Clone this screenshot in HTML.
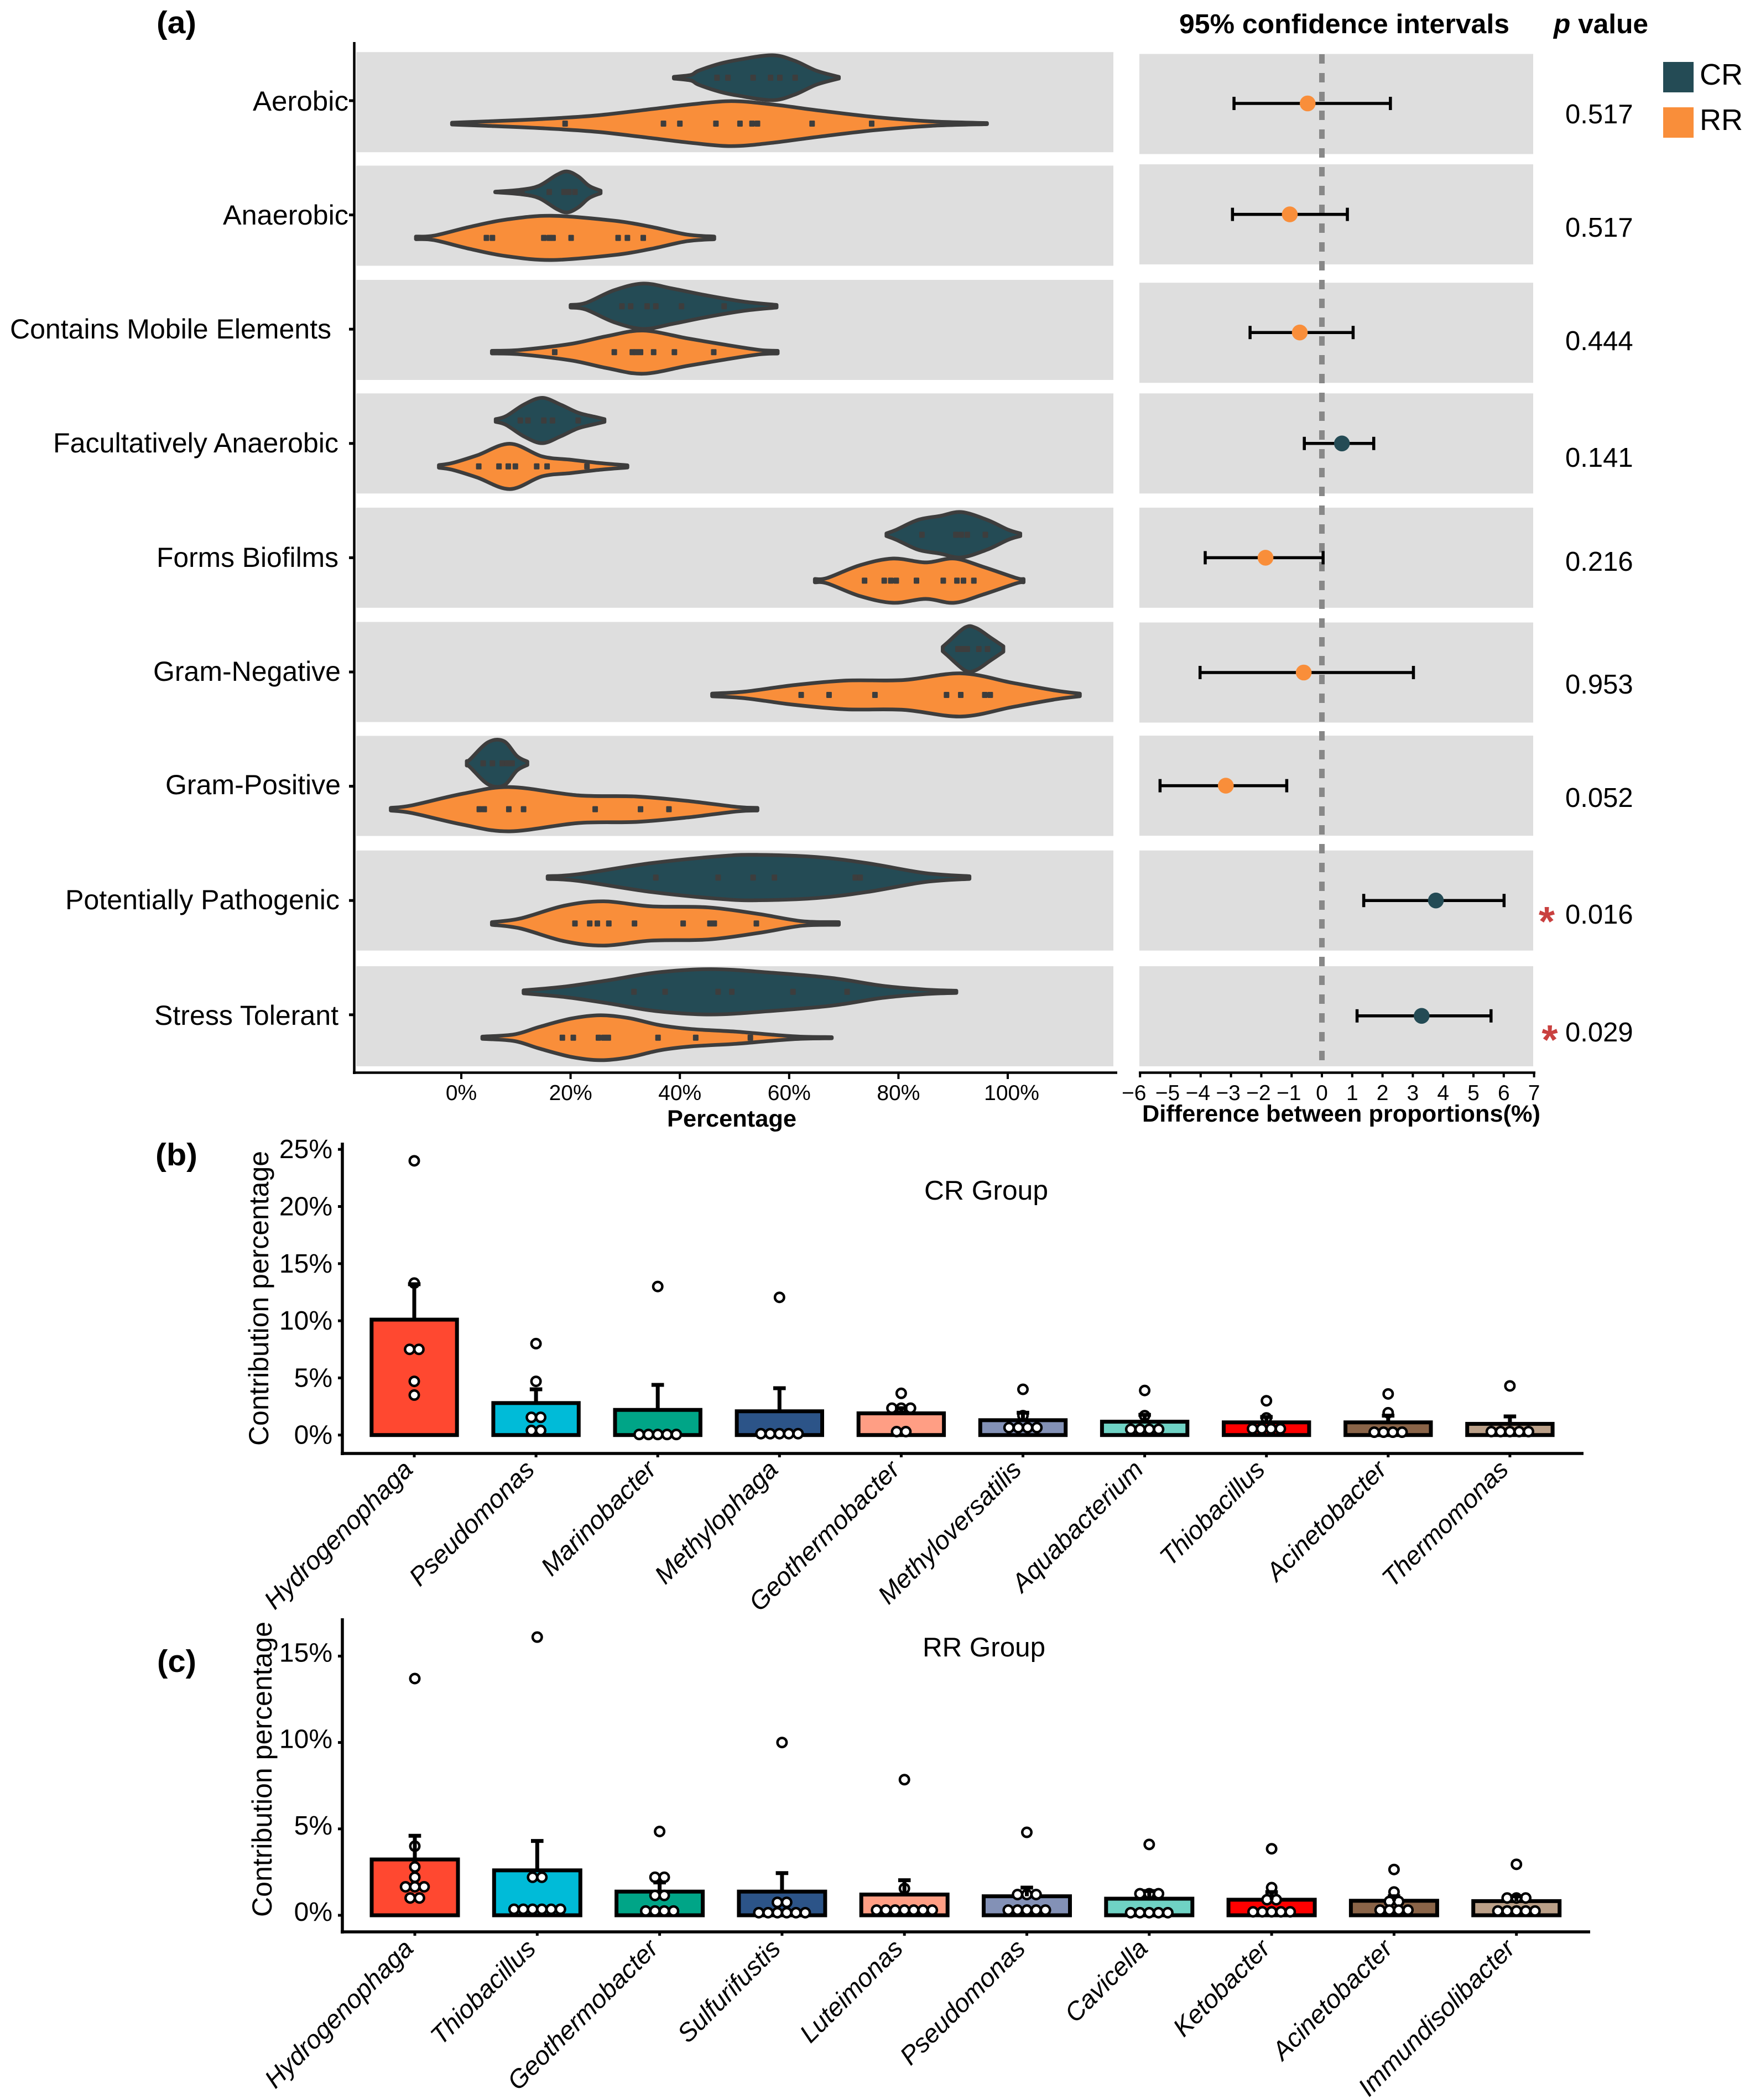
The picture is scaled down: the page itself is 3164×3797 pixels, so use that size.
<!DOCTYPE html>
<html lang="en">
<head>
<meta charset="utf-8">
<title>Violin, confidence interval and contribution charts</title>
<style>
html,body{margin:0;padding:0;background:#fff}
svg{display:block;font-family:"Liberation Sans",Arial,sans-serif}
</style>
</head>
<body>
<svg id="fig" xmlns="http://www.w3.org/2000/svg" width="3164" height="3797" viewBox="0 0 3164 3797">
  <rect x="0" y="0" width="3164" height="3797" fill="#ffffff"/>
  <g id="violinLayer"></g>
  <g id="ciLayer"></g>
  <g id="barLayerB"></g>
  <g id="barLayerC"></g>

  <text x="283" y="60" font-size="57" font-weight="700" textLength="72" lengthAdjust="spacingAndGlyphs">(a)</text>
  <text x="281" y="2107" font-size="57" font-weight="700" textLength="76" lengthAdjust="spacingAndGlyphs">(b)</text>
  <text x="284" y="3023" font-size="57" font-weight="700" textLength="71" lengthAdjust="spacingAndGlyphs">(c)</text>

  <g font-size="50" fill="#000">
    <text x="457" y="200" textLength="173" lengthAdjust="spacingAndGlyphs">Aerobic</text>
    <text x="403" y="406" textLength="227" lengthAdjust="spacingAndGlyphs">Anaerobic</text>
    <text x="18" y="612" textLength="581" lengthAdjust="spacingAndGlyphs">Contains Mobile Elements</text>
    <text x="96" y="818" textLength="516" lengthAdjust="spacingAndGlyphs">Facultatively Anaerobic</text>
    <text x="283" y="1025" textLength="329" lengthAdjust="spacingAndGlyphs">Forms Biofilms</text>
    <text x="277" y="1231" textLength="339" lengthAdjust="spacingAndGlyphs">Gram-Negative</text>
    <text x="299" y="1436" textLength="317" lengthAdjust="spacingAndGlyphs">Gram-Positive</text>
    <text x="118" y="1644" textLength="496" lengthAdjust="spacingAndGlyphs">Potentially Pathogenic</text>
    <text x="279" y="1853" textLength="333" lengthAdjust="spacingAndGlyphs">Stress Tolerant</text>
  </g>

  <text x="1206" y="2037" font-size="43" font-weight="700" textLength="234" lengthAdjust="spacingAndGlyphs">Percentage</text>
  <text x="2065" y="2028" font-size="43" font-weight="700" textLength="720" lengthAdjust="spacingAndGlyphs">Difference between proportions(%)</text>
  <text x="2132" y="60" font-size="49" font-weight="700" textLength="597" lengthAdjust="spacingAndGlyphs">95% confidence intervals</text>
  <text x="2809" y="60" font-size="49" font-weight="700" textLength="171" lengthAdjust="spacingAndGlyphs"><tspan font-style="italic">p</tspan> value</text>

  <g font-size="49" fill="#000">
    <text x="2830" y="223">0.517</text>
    <text x="2830" y="428">0.517</text>
    <text x="2830" y="633">0.444</text>
    <text x="2830" y="844">0.141</text>
    <text x="2830" y="1032">0.216</text>
    <text x="2830" y="1254">0.953</text>
    <text x="2830" y="1459">0.052</text>
    <text x="2830" y="1670">0.016</text>
    <text x="2830" y="1883">0.029</text>
  </g>
  <text x="2796.5" y="1692" font-size="75" font-weight="700" fill="#C9403F" text-anchor="middle">*</text>
  <text x="2802" y="1906" font-size="75" font-weight="700" fill="#C9403F" text-anchor="middle">*</text>

  <g>
    <rect x="3007" y="112" width="55" height="55" fill="#244B55"/>
    <text x="3073" y="153" font-size="54">CR</text>
    <rect x="3007" y="194" width="55" height="55" fill="#F98E3A"/>
    <text x="3073" y="235" font-size="54">RR</text>
  </g>

  <text x="1671" y="2169" font-size="49" textLength="224" lengthAdjust="spacingAndGlyphs">CR Group</text>
  <text x="1668" y="2995" font-size="49" textLength="222" lengthAdjust="spacingAndGlyphs">RR Group</text>
  <text transform="rotate(-90 485 2614)" x="485" y="2614" font-size="50" textLength="533" lengthAdjust="spacingAndGlyphs">Contribution percentage</text>
  <text transform="rotate(-90 491 3466)" x="491" y="3466" font-size="50" textLength="534" lengthAdjust="spacingAndGlyphs">Contribution percentage</text>
</svg>

<script>
// ---------- Panel (a): violin data ----------
const violinGridCR = [
  [38.9,42,43.4,47.4,50.8,56.9,61,65,69.1],
  [6.2,10.8,14.2,17.5,19.4,21.4,23.4,25.5],
  [20,22.8,28,33.3,38.6,45.2,51.9,57.7],
  [6.3,8.2,11.5,14.8,18.1,21.4,24.7,26.2],
  [77.8,79.6,83.6,87.6,91.5,96.2,100.1,102.3],
  [88.1,88.9,92.2,94.2,96.8,99.2],
  [1,1.6,4.9,7.8,10.2,12.1],
  [15.8,21.4,34.7,47.9,54.5,65.1,74.3,84.9,93],
  [11.4,19,27,35.8,45.7,56.2,67.8,77,85,90.6]
];
const violinDensityCR = [
  [1.5,5,12.6,25.6,32.6,40.7,30.6,12.6,1.5],
  [0.5,4,11,31,37,28,11,2.4],
  [2.4,6,29,41,32,19,8,2.4],
  [2.4,8,29,41,29,14,6,2.4],
  [2.4,9,27,34,41,27,9,2.4],
  [4,11,39,38,21,5],
  [4,7,38,40,13,3],
  [2.4,6,26,39,41,37,26,8,2.4],
  [2.7,9.5,21,35,41,35,25,11,4,2]
];
const rugCR = [
  [46.8,48.8,53.4,56.6,58.3,61.1],
  [11.1,16.1,18.8,19.7,20.8],
  [29.4,31,34,35.6,40.3,48.1],
  [10.8,12.2,15.1,16.7,21.4],
  [84.3,90.5,91.5,92.6,95.9],
  [90.9,91.8,92.6,94.7,96.3],
  [4,5.7,7.5,8.5,9.3],
  [35.6,47,53.4,57.3,72.1,73],
  [31.6,37.3,47,49.5,60.7,70.6]
];
const violinGridRR = [
  [-1.7,4.7,14.9,25,35.2,42,49.4,56.9,65.7,75.9,86,96.2],
  [-8.3,-5,1.6,8.2,16.5,28,34.7,41.3,46.3],
  [5.6,10.8,20.1,26.7,33.3,41.3,47.9,54.5,57.9],
  [-4.1,-1.7,2.9,8.9,14.8,20.1,25.4,30.4],
  [64.7,67,73,79,85,90.2,95.5,101.5,102.9],
  [45.9,51.9,61.1,70.4,81,91.5,100.8,108.7,113.2],
  [-12.9,-9,0.3,8.9,21.4,32,41.3,50.5,54.2],
  [5.6,10.8,18.8,26.1,34.7,45.2,54.5,62.4,69.1],
  [3.85,9.7,14.3,20.1,25.4,30.6,36.4,42.2,50.3,56.2,62,67.8]
];
const violinDensityRR = [
  [1.7,4,8.4,15,26.7,34.7,40.7,34.7,23.4,11.7,4,1],
  [2.4,4,20,33,40,31,20,6,2.4],
  [2.4,4,15,29,39,25,14,4,2.4],
  [2.4,6,20,41,18,12,6,2],
  [3,5,28,40,33,40,25,5,3],
  [2.4,6,18,26,27,39,22,8,2.4],
  [2.4,7,28,40,25,23,15,4,2.4],
  [2.4,9,32,40,31,29,17,4,2.4],
  [2,6,19.6,34.6,40.6,35.6,22.6,15.6,11,6,2,1]
];
const rugRR = [
  [19,37,40,46.6,51,53.2,54.2,64.2,75.1],
  [4.6,5.7,15.1,16.1,16.8,20.1,28.7,30.4,33.3],
  [17.1,28,31.3,32,32.8,35.2,39,46.2],
  [3.2,6.9,8.6,9.9,13.8,15.7,23],
  [73.8,77.4,78.6,79.6,83.3,88.2,90.7,91.9,93.8],
  [62.2,67.3,75.7,88.8,91.4,95.8,96.8],
  [3.3,4.2,8.7,11.4,24.5,32.8,38],
  [20.8,23.5,24.9,27,31.7,40.6,45.5,46.3,54],
  [18.5,20.5,25.1,26.1,26.9,36,42.9,52.9]
];
const violinTicks = [0,20,40,60,80,100];
const violinTickLabels = ['0%','20%','40%','60%','80%','100%'];

// ---------- Panel (a): confidence interval data ----------
const ciLow = [-2.9,-2.95,-2.37,-0.58,-3.85,-4.02,-5.34,1.38,1.16];
const ciHigh = [2.26,0.84,1.03,1.71,0.04,3.02,-1.16,6.01,5.58];
const ciDiff = [-0.47,-1.06,-0.73,0.66,-1.86,-0.6,-3.17,3.76,3.29];
const ciTicks = [-6,-5,-4,-3,-2,-1,0,1,2,3,4,5,6,7];

// ---------- Panel (b) ----------
const crGenera = ['Hydrogenophaga','Pseudomonas','Marinobacter','Methylophaga','Geothermobacter','Methyloversatilis','Aquabacterium','Thiobacillus','Acinetobacter','Thermomonas'];
const crMeans = [10.1,2.8,2.2,2.08,1.9,1.3,1.17,1.11,1.11,0.98];
const crErrorTops = [13.2,4.0,4.39,4.1,2.35,1.95,1.77,1.58,1.7,1.63];
const crSamples = [
  [24,13.3,7.5,7.5,4.7,3.5],
  [8,4.7,1.55,1.55,0.4,0.4],
  [13,0.05,0.05,0.05,0.05,0.05],
  [12.05,0.12,0.12,0.12,0.12,0.12],
  [3.65,2.35,2.35,2.35,0.3,0.3],
  [4,1.7,0.65,0.65,0.65,0.65],
  [3.9,1.7,0.5,0.5,0.5,0.5],
  [3,1.5,0.55,0.55,0.55,0.55],
  [3.6,1.95,0.25,0.25,0.25,0.25],
  [4.3,0.3,0.3,0.3,0.3,0.3]
];
const crTicks = [0,5,10,15,20,25];

// ---------- Panel (c) ----------
const rrGenera = ['Hydrogenophaga','Thiobacillus','Geothermobacter','Sulfurifustis','Luteimonas','Pseudomonas','Cavicella','Ketobacter','Acinetobacter','Immundisolibacter'];
const rrMeans = [3.23,2.6,1.37,1.37,1.2,1.1,0.96,0.9,0.84,0.82];
const rrErrorTops = [4.6,4.3,1.9,2.44,2.03,1.6,1.4,1.34,1.1,1.1];
const rrSamples = [
  [13.7,4,2.8,2.2,1.65,1.65,1.65,1,1],
  [16.1,2.2,2.2,0.35,0.35,0.35,0.35,0.35,0.35],
  [4.85,2.2,2.2,1.15,1.15,0.25,0.25,0.25,0.25],
  [10,0.75,0.75,0.15,0.15,0.15,0.15,0.15,0.15],
  [7.85,1.55,0.3,0.3,0.3,0.3,0.3,0.3,0.3],
  [4.8,1.2,1.2,1.2,0.3,0.3,0.3,0.3,0.3],
  [4.1,1.25,1.25,1.25,0.15,0.15,0.15,0.15,0.15],
  [3.85,1.6,0.9,0.9,0.2,0.2,0.2,0.2,0.2],
  [2.65,1.35,1,0.8,0.8,0.3,0.3,0.3,0.3],
  [2.95,1,1,1,0.25,0.25,0.25,0.25,0.25]
];
const rrTicks = [0,5,10,15];

const barColors = ['#FF4830','#00BBD8','#00A587','#2C5488','#FF9E84','#8391B6','#6FD2C4','#FF0000','#8A6448','#BBA088'];
const DARK = '#244B55';
const ORANGE = '#F98E3A';
const INK = '#3D3D3D';
const PANEL = '#DEDEDE';
const NS = 'http://www.w3.org/2000/svg';

function mk(tag, attrs, parent) {
  const node = document.createElementNS(NS, tag);
  for (const k in attrs) node.setAttribute(k, attrs[k]);
  parent.appendChild(node);
  return node;
}

// axis functions
const xPct = v => 834 + 9.88 * v;
const bandY = i => 182 + 206.6 * i;
const xCI = v => 2390 + 54.8 * v;
// hand-placed layout corrections of the gray strips around the band centres
const leftStripNudge = [2.7,1.4,1.3,0,0,0,-0.6,0,2.7];
const rightStripNudge = [6,-1,6.5,0,0,1,-1,0,2.7];
const ciLineNudge = [5,-1,6,0,0,1,-1,0,2];

function smoothViolin(xs, hs, cy) {
  const top = xs.map((x, i) => [xPct(x), cy - hs[i]]);
  const bottom = xs.map((x, i) => [xPct(x), cy + hs[i]]).reverse();
  const seg = pts => {
    let d = '';
    for (let i = 0; i < pts.length - 1; i++) {
      const p0 = pts[Math.max(i - 1, 0)], p1 = pts[i], p2 = pts[i + 1], p3 = pts[Math.min(i + 2, pts.length - 1)];
      const c1x = p1[0] + (p2[0] - p0[0]) / 6, c1y = p1[1] + (p2[1] - p0[1]) / 6;
      const c2x = p2[0] - (p3[0] - p1[0]) / 6, c2y = p2[1] - (p3[1] - p1[1]) / 6;
      d += 'C' + c1x.toFixed(1) + ' ' + c1y.toFixed(1) + ' ' + c2x.toFixed(1) + ' ' + c2y.toFixed(1) + ' ' + p2[0].toFixed(1) + ' ' + p2[1].toFixed(1);
    }
    return d;
  };
  return 'M' + top[0][0].toFixed(1) + ' ' + top[0][1].toFixed(1) + seg(top) + 'L' + bottom[0][0].toFixed(1) + ' ' + bottom[0][1].toFixed(1) + seg(bottom) + 'Z';
}

// ---------- draw violin panel ----------
const vLayer = document.getElementById('violinLayer');
violinGridCR.forEach((_, i) => {
  const strip = mk('rect', {x: 644, y: bandY(i) + leftStripNudge[i] - 90.5, width: 1369, height: 181, fill: PANEL}, vLayer);
  
  
});
function drawViolin(i, grid, dens, rug, fill, offset, groupName) {
  const cy = bandY(i) + offset;
  const shape = mk('path', {d: smoothViolin(grid[i], dens[i], cy), fill: fill, stroke: INK, 'stroke-width': 6.7, 'stroke-linejoin': 'round'}, vLayer);
  
  
  rug[i].forEach(v => {
    const tick = mk('rect', {x: xPct(v) - 5, y: cy - 5.5, width: 10, height: 11, rx: 1.5, fill: INK}, vLayer);
    
    
  });
}
violinGridCR.forEach((_, i) => {
  drawViolin(i, violinGridCR, violinDensityCR, rugCR, DARK, -41.5, 'cr');
});
violinGridRR.forEach((_, i) => {
  drawViolin(i, violinGridRR, violinDensityRR, rugRR, ORANGE, 41.5, 'rr');
});
const vAxisY = mk('line', {x1: 640.5, y1: 76, x2: 640.5, y2: 1942, stroke: '#000', 'stroke-width': 4.5}, vLayer);


const vAxisX = mk('line', {x1: 638, y1: 1939.5, x2: 2020, y2: 1939.5, stroke: '#000', 'stroke-width': 4.5}, vLayer);


violinGridCR.forEach((_, i) => {
  const t = mk('line', {x1: 631, y1: bandY(i), x2: 640, y2: bandY(i), stroke: '#000', 'stroke-width': 5}, vLayer);
  
  
});
violinTicks.forEach((v, i) => {
  const t = mk('line', {x1: xPct(v), y1: 1940, x2: xPct(v), y2: 1951, stroke: '#000', 'stroke-width': 4}, vLayer);
  
  
  const nudge = v === 100 ? 7 : 0;
  const lab = mk('text', {x: xPct(v) + nudge, y: 1989, 'font-size': 39, 'text-anchor': 'middle', fill: '#000'}, vLayer);
  lab.textContent = violinTickLabels[i];
  
  
});

// ---------- draw confidence interval panel ----------
const cLayer = document.getElementById('ciLayer');
ciDiff.forEach((_, i) => {
  const strip = mk('rect', {x: 2060, y: bandY(i) + rightStripNudge[i] - 90.5, width: 712, height: 181, fill: PANEL}, cLayer);
  
  
});
const zeroLine = mk('line', {x1: xCI(0), y1: 98, x2: xCI(0), y2: 1919, stroke: '#888888', 'stroke-width': 10, 'stroke-dasharray': '17 17'}, cLayer);


ciDiff.forEach((d, i) => {
  const cy = bandY(i) + ciLineNudge[i];
  const stem = mk('line', {x1: xCI(ciLow[i]), y1: cy, x2: xCI(ciHigh[i]), y2: cy, stroke: '#000', 'stroke-width': 5.5}, cLayer);
  
  
  const capL = mk('line', {x1: xCI(ciLow[i]), y1: cy - 12, x2: xCI(ciLow[i]), y2: cy + 12, stroke: '#000', 'stroke-width': 5.5}, cLayer);
  
  
  const capR = mk('line', {x1: xCI(ciHigh[i]), y1: cy - 12, x2: xCI(ciHigh[i]), y2: cy + 12, stroke: '#000', 'stroke-width': 5.5}, cLayer);
  
  
  const pt = mk('circle', {cx: xCI(d), cy: cy, r: 14.3, fill: d > 0 ? DARK : ORANGE}, cLayer);
  
  
});
const cAxis = mk('line', {x1: 2059, y1: 1939.5, x2: 2776, y2: 1939.5, stroke: '#000', 'stroke-width': 4.5}, cLayer);


ciTicks.forEach(v => {
  const t = mk('line', {x1: xCI(v), y1: 1940, x2: xCI(v), y2: 1948, stroke: '#000', 'stroke-width': 4}, cLayer);
  
  
  const shift = v === -6 ? -11 : (v < 0 ? -5 : 0);
  const lab = mk('text', {x: xCI(v) + shift, y: 1989, 'font-size': 39, 'text-anchor': 'middle', fill: '#000'}, cLayer);
  lab.textContent = (v < 0 ? '\u2212' + Math.abs(v) : String(v));
  
  
});

// ---------- draw bar panels ----------
function drawBarPanel(layer, p, genera, means, errs, samples, ticks) {
  const yOf = v => p.zero - p.unit * v;
  const xOf = i => p.first + p.step * i;
  genera.forEach((name, i) => {
    const cx = xOf(i);
    const bar = mk('rect', {x: cx - p.barHalf, y: yOf(means[i]), width: p.barHalf * 2, height: yOf(0) - yOf(means[i]), fill: barColors[i], stroke: '#000', 'stroke-width': 7}, layer);
    
    

    const rows = {};
    samples[i].forEach(v => { (rows[v] = rows[v] || []).push(v); });
    Object.keys(rows).forEach(key => {
      const n = rows[key].length;
      rows[key].forEach((v, k) => {
        const dot = mk('circle', {cx: cx + (k - (n - 1) / 2) * 16.8, cy: yOf(v), r: 8.25, fill: '#fff', stroke: '#000', 'stroke-width': 4.5}, layer);
        
        
      });
    });

    const stem = mk('line', {x1: cx, y1: yOf(means[i]), x2: cx, y2: yOf(errs[i]), stroke: '#000', 'stroke-width': 7}, layer);
    
    
    const cap = mk('line', {x1: cx - 11.3, y1: yOf(errs[i]), x2: cx + 11.3, y2: yOf(errs[i]), stroke: '#000', 'stroke-width': 7}, layer);
    
    

    const t = mk('line', {x1: cx, y1: p.axisY, x2: cx, y2: p.axisY + 7, stroke: '#000', 'stroke-width': 5}, layer);
    
    

    const lab = mk('text', {x: cx, y: p.labelY, 'font-size': 46.5, 'font-style': 'italic', 'text-anchor': 'end', transform: 'rotate(-45 ' + cx + ' ' + p.labelY + ')', fill: '#000'}, layer);
    lab.textContent = name;
    
    
  });
  ticks.forEach(v => {
    const t = mk('line', {x1: 611, y1: yOf(v), x2: 619, y2: yOf(v), stroke: '#000', 'stroke-width': 5}, layer);
    
    
    const lab = mk('text', {x: 601, y: yOf(v) + p.tickShift, 'font-size': 48, 'text-anchor': 'end', fill: '#000'}, layer);
    lab.textContent = v + '%';
    
    
  });
  const ay = mk('line', {x1: 619, y1: p.axisTop, x2: 619, y2: p.axisY + 3, stroke: '#000', 'stroke-width': 5.5}, layer);
  
  
  const ax = mk('line', {x1: 616, y1: p.axisY, x2: p.axisEnd, y2: p.axisY, stroke: '#000', 'stroke-width': 5.5}, layer);
  
  
}

drawBarPanel(document.getElementById('barLayerB'),
  {zero: 2594.7, unit: 20.66, first: 749, step: 220.1, barHalf: 77.2, axisY: 2628, axisTop: 2066, axisEnd: 2863, labelY: 2660, tickShift: 16},
  crGenera, crMeans, crErrorTops, crSamples, crTicks);
drawBarPanel(document.getElementById('barLayerC'),
  {zero: 3463, unit: 31.24, first: 750, step: 221.3, barHalf: 78, axisY: 3493, axisTop: 2926, axisEnd: 2875, labelY: 3526, tickShift: 10},
  rrGenera, rrMeans, rrErrorTops, rrSamples, rrTicks);
</script>
</body>
</html>
